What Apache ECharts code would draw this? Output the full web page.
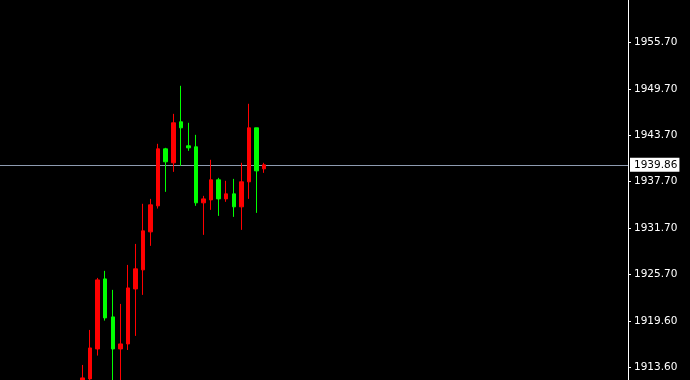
<!DOCTYPE html>
<html>
<head>
<meta charset="utf-8">
<script src="https://cdn.jsdelivr.net/npm/echarts@6/dist/echarts.min.js"></script>
<style>
html,body{margin:0;padding:0;background:#000;}
#chart{width:690px;height:380px;}
</style>
</head>
<body>
<div id="chart"></div>
<script>
// bar index (x position on the time scale)
const barIndex = [0,1,2,3,4,5,6,7,8,9,10,11,12,13,14,15,16,17,18,19,20,21,22,23,24];
const openVals  = [1911.00,1912.14,1916.02,1925.09,1920.17,1916.02,1916.67,1923.79,1926.26,1931.18,1934.55,1941.93,1940.12,1945.43,1942.32,1942.19,1934.94,1935.32,1937.92,1935.45,1936.10,1934.42,1937.66,1944.65,1939.34];
const closeVals = [1912.27,1916.15,1924.96,1920.04,1916.02,1916.67,1923.92,1926.39,1931.31,1934.68,1941.93,1940.25,1945.30,1944.65,1942.06,1934.94,1935.45,1937.92,1935.45,1936.10,1934.42,1937.66,1944.65,1939.08,1939.86];
const lowVals   = [1910.50,1911.60,1915.16,1919.69,1911.50,1911.30,1915.89,1917.71,1923.02,1929.37,1934.20,1936.36,1938.95,1939.73,1941.67,1934.55,1930.79,1934.03,1933.25,1935.07,1933.12,1931.44,1935.45,1933.64,1938.82];
const highVals  = [1913.95,1918.48,1925.22,1926.13,1923.67,1921.85,1926.90,1929.62,1934.81,1935.45,1942.58,1942.06,1946.46,1950.09,1945.30,1943.74,1935.84,1940.51,1938.17,1937.79,1938.04,1940.12,1947.76,1944.65,1940.12];
const priceTicks = [1913.6,1919.6,1925.7,1931.7,1937.7,1943.7,1949.7,1955.7];
const currentPrice = 1939.86;

const candleData = barIndex.map((x, i) => [x, openVals[i], closeVals[i], lowVals[i], highVals[i]]);

const chart = echarts.init(document.getElementById('chart'), null, {renderer: 'canvas'});
const labelFont = {fontFamily: 'DejaVu Sans', fontSize: 10.5};
chart.setOption({
  backgroundColor: '#000000',
  animation: false,
  grid: {left: 0, right: 62, top: 0, bottom: 0, containLabel: false},
  xAxis: {
    type: 'value',
    min: -10.91,
    max: 72.13,
    show: false,
    splitLine: {show: false}
  },
  yAxis: {
    type: 'value',
    position: 'right',
    scale: true,
    min: 1912.0,
    max: 1961.2,
    splitLine: {show: false},
    axisLine: {show: true, onZero: false, lineStyle: {color: '#ffffff', width: 1}},
    axisTick: {show: true, length: 3, inside: false, customValues: priceTicks, lineStyle: {color: '#ffffff'}},
    axisLabel: Object.assign({
      show: true,
      color: '#ffffff',
      margin: 6,
      customValues: priceTicks,
      formatter: v => v.toFixed(2)
    }, labelFont)
  },
  series: [{
    type: 'candlestick',
    data: candleData,
    barWidth: 4,
    itemStyle: {
      color: '#ff0000',
      color0: '#00ff00',
      borderColor: '#ff0000',
      borderColor0: '#00ff00',
      borderWidth: 1
    },
    markLine: {
      z: 1,
      silent: true,
      symbol: ['none', 'none'],
      lineStyle: {color: '#8e9bb0', width: 1, type: 'solid'},
      label: Object.assign({
        show: true,
        position: 'end',
        distance: 2,
        color: '#000000',
        backgroundColor: '#ffffff',
        padding: [2, 2, 1, 4],
        formatter: () => currentPrice.toFixed(2)
      }, labelFont),
      data: [{yAxis: currentPrice}]
    }
  }]
});
</script>
</body>
</html>
